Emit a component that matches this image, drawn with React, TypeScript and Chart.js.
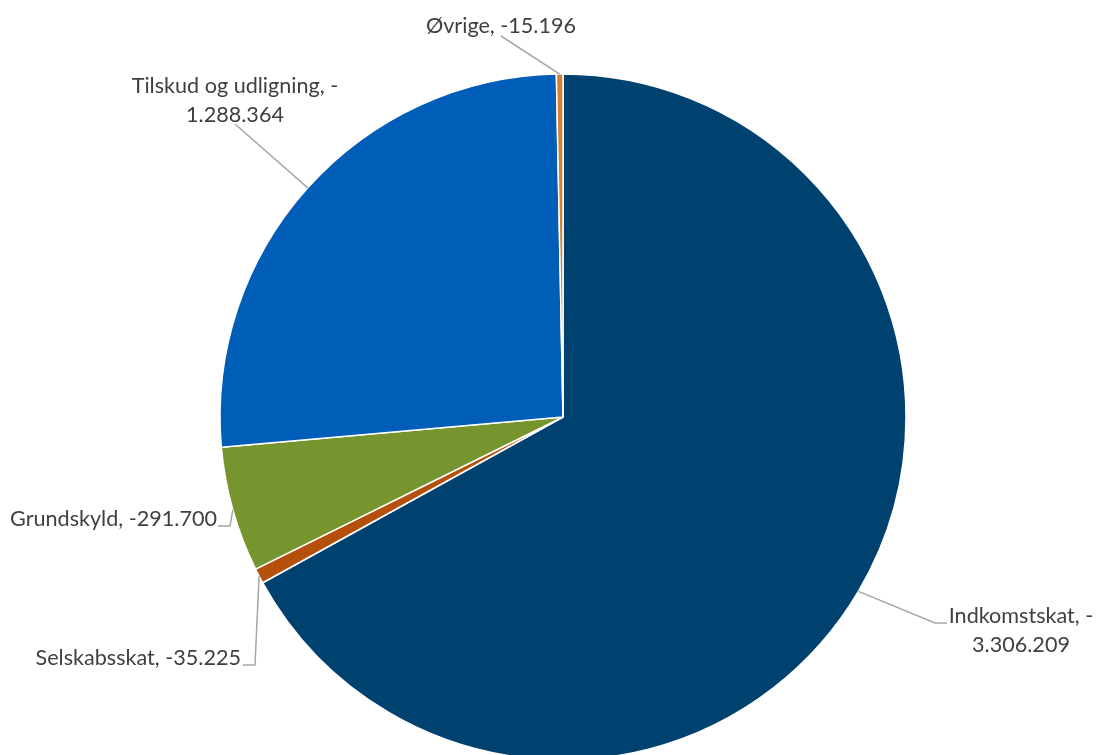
import React, { useEffect, useRef } from "react";
import { Chart, registerables } from "chart.js";

Chart.register(...registerables);

const categories = ["Indkomstskat", "Selskabsskat", "Grundskyld", "Tilskud og udligning", "Øvrige"];
const values = [-3306209, -35225, -291700, -1288364, -15196];
const valueLabels = ["-3.306.209", "-35.225", "-291.700", "-1.288.364", "-15.196"];
const colors = ["#00426F", "#B5500C", "#77952F", "#005EB8", "#D4822F"];

// label text lines per slice (as in the reference wrapping)
const labelLines = [
  ["Indkomstskat, -", "3.306.209"],
  ["Selskabsskat, -35.225"],
  ["Grundskyld, -291.700"],
  ["Tilskud og udligning, -", "1.288.364"],
  ["Øvrige, -15.196"],
];
// label placement (x, first baseline y, alignment)
const labelX = [1021, 241, 217, 235, 501];
const labelY = [623, 665, 526, 93, 33];
const labelAlign: CanvasTextAlign[] = ["center", "right", "right", "center", "center"];
// leader line path from label to slice (label end point, optional elbow)
const leaderStart = [[947, 623], [243, 665], [218, 526], [235, 124], [501, 36]];
const leaderElbow: (number[] | null)[] = [[935, 623], [255, 665], [230, 526], null, null];

const labelPlugin = {
  id: "pieLabels",
  afterDraw(chart: any) {
    const ctx = chart.ctx;
    const meta = chart.getDatasetMeta(0);
    ctx.save();
    ctx.font = "21.6px Lato";
    ctx.fillStyle = "#404040";
    ctx.textBaseline = "alphabetic";
    meta.data.forEach((arc: any, i: number) => {
      const { x, y, startAngle, endAngle, outerRadius } = arc.getProps(
        ["x", "y", "startAngle", "endAngle", "outerRadius"],
        true
      );
      const mid = (startAngle + endAngle) / 2;
      const ax = x + Math.cos(mid) * outerRadius;
      const ay = y + Math.sin(mid) * outerRadius;
      ctx.strokeStyle = "#A6A6A6";
      ctx.lineWidth = 1.5;
      ctx.beginPath();
      ctx.moveTo(leaderStart[i][0], leaderStart[i][1]);
      const elbow = leaderElbow[i];
      if (elbow) ctx.lineTo(elbow[0], elbow[1]);
      ctx.lineTo(ax, ay);
      ctx.stroke();
      ctx.textAlign = labelAlign[i];
      labelLines[i].forEach((line, j) => {
        ctx.fillText(line, labelX[i], labelY[i] + j * 29);
      });
    });
    ctx.restore();
  },
};

export default function App() {
  const ref = useRef<HTMLCanvasElement>(null);
  useEffect(() => {
    if (!ref.current) return;
    const chart = new Chart(ref.current, {
      type: "pie",
      data: {
        labels: categories.map((c, i) => `${c}, ${valueLabels[i]}`),
        datasets: [
          {
            data: values.map((v) => Math.abs(v)),
            backgroundColor: colors,
            borderColor: "#FFFFFF",
            borderWidth: 1.5,
          },
        ],
      },
      options: {
        responsive: false,
        animation: false,
        radius: 343,
        layout: { padding: { left: 27, top: 79, right: 0, bottom: 0 } },
        plugins: {
          legend: { display: false },
          tooltip: { enabled: false },
        },
      } as any,
      plugins: [labelPlugin],
    });
    return () => chart.destroy();
  }, []);
  return (
    <div style={{ position: "absolute", left: 0, top: 0, width: 1099, height: 755, background: "#fff" }}>
      <canvas ref={ref} width={1099} height={755} />
    </div>
  );
}
